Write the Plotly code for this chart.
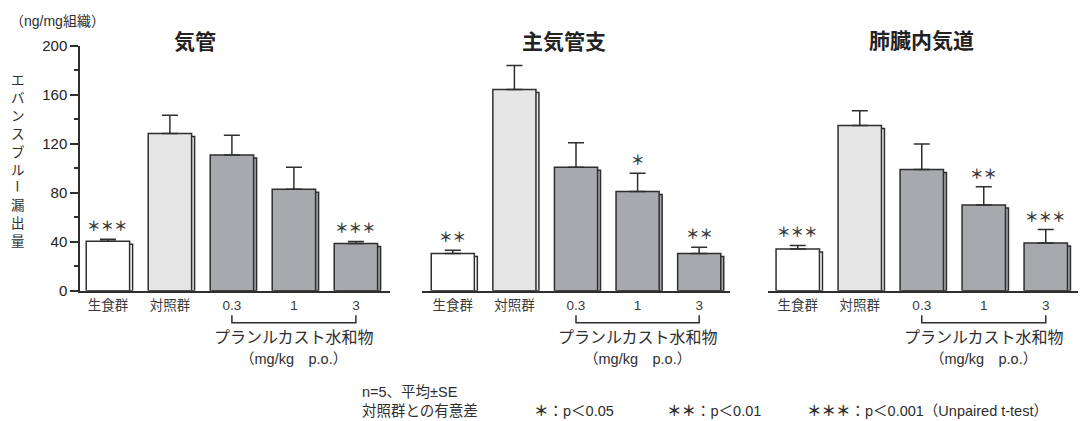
import plotly.graph_objects as go

W, H = 1082, 421

# ---- data -------------------------------------------------------------
categories = ["生食群", "対照群", "0.3", "1", "3"]
panel_titles = ["気管", "主気管支", "肺臓内気道"]

trachea_mean = [40.5, 128.5, 111, 83, 38.5]
trachea_se = [1.5, 15, 16, 18, 1.8]
trachea_sig = ["＊＊＊", "", "", "", "＊＊＊"]

bronchus_mean = [30.5, 164.5, 101, 81, 30.5]
bronchus_se = [2.5, 19.5, 20, 15, 5]
bronchus_sig = ["＊＊", "", "", "＊", "＊＊"]

intrapulm_mean = [34, 135, 99, 70, 39]
intrapulm_se = [3, 12, 21, 15, 11]
intrapulm_sig = ["＊＊＊", "", "", "＊＊", "＊＊＊"]

y_ticks = [0, 40, 80, 120, 160, 200]
y_minor = [20, 60, 100, 140, 180]
y_title = "エバンスブルー漏出量"
unit_label = "（ng/mg組織）"
drug_name = "プランルカスト水和物"
dose_unit = "（mg/kg　p.o.）"
drug_range = ("0.3", "3")

# ---- styling ------------------------------------------------------------
FONT = "Liberation Sans, Noto Sans CJK JP, sans-serif"
CJK = "Noto Sans CJK JP, sans-serif"
INK = "#2e2e2e"
bar_colors = ["#ffffff", "#e6e6e6", "#a7a9ac", "#a7a9ac", "#a7a9ac"]
BAR_W = 0.7

# pixel layout of the three panels: (left, right, range_lo, range_hi)
panel_px = [(80, 390, -0.45, 4.55), (422, 730, -0.5, 4.5), (768, 1078, -0.48, 4.52)]
title_px = [(195, 40), (564, 40), (921, 39)]
PLOT_TOP, PLOT_BOTTOM = 46, 290.7
px_per_x = 62.0
px_per_y = (PLOT_BOTTOM - PLOT_TOP) / 200.0
SHADOW_DX = 3.0 / px_per_x
SHADOW_DY = 3.0 / px_per_y


def fx(px):
    return px / W


def fy(px):
    return 1 - px / H


def label(x, y, text, size, family=FONT, color=INK, xref="paper", yref="paper",
          xanchor="center", **extra):
    return dict(x=x, y=y, xref=xref, yref=yref, text=text, showarrow=False,
                xanchor=xanchor, yanchor="middle",
                font=dict(family=family, size=size, color=color), **extra)


panels = [
    (trachea_mean, trachea_se, trachea_sig),
    (bronchus_mean, bronchus_se, bronchus_sig),
    (intrapulm_mean, intrapulm_se, intrapulm_sig),
]

fig = go.Figure()
annotations = []
positions = list(range(len(categories)))

for i, (mean, se, sig) in enumerate(panels):
    xa = "x" if i == 0 else f"x{i + 1}"
    # offset copy of each bar acting as a drop shadow
    fig.add_trace(go.Bar(
        x=positions, y=[m - SHADOW_DY for m in mean], xaxis=xa, yaxis="y",
        width=BAR_W, offset=-BAR_W / 2 + SHADOW_DX,
        marker=dict(color=bar_colors, line=dict(color=INK, width=1.5)),
        hoverinfo="skip", showlegend=False,
    ))
    fig.add_trace(go.Bar(
        x=positions, y=mean, xaxis=xa, yaxis="y",
        width=BAR_W, offset=-BAR_W / 2,
        marker=dict(color=bar_colors, line=dict(color=INK, width=1.5)),
        error_y=dict(type="data", array=se, arrayminus=[0] * len(se),
                     symmetric=False, color=INK, thickness=1.5, width=8),
        showlegend=False,
    ))
    # significance marks above the error bars
    for j, s in enumerate(sig):
        if s:
            annotations.append(label(j, mean[j] + se[j], f"<b>{s}</b>", 13.5,
                                     family=CJK, color="#3a3a3a", xref=xa, yref="y",
                                     yshift=14))
    # panel title
    tx, ty = title_px[i]
    annotations.append(label(fx(tx), fy(ty), f"<b>{panel_titles[i]}</b>", 21,
                             family=CJK, color="#222"))
    # bracket spanning the drug doses, drawn in a small helper subplot
    x0 = categories.index(drug_range[0])
    x1 = categories.index(drug_range[1])
    fig.add_trace(go.Scatter(
        x=[x0, x0, x1, x1], y=[1, 0, 0, 1], xaxis=xa, yaxis="y2",
        mode="lines", line=dict(color=INK, width=1.5),
        hoverinfo="skip", showlegend=False,
    ))
    annotations.append(label((x0 + x1) / 2, fy(336), drug_name, 16,
                             family=CJK, xref=xa))
    annotations.append(label((x0 + x1) / 2, fy(359), dose_unit, 14.5, xref=xa))

# vertical y-axis title, one character per line
for k, ch in enumerate(y_title):
    annotations.append(label(fx(18), fy(79 + 17.9 * k), ch, 13.5, family=CJK,
                             textangle=90 if ch == "ー" else 0))

annotations.append(label(fx(8), fy(21.5), unit_label, 14, xanchor="left"))

# footnotes
footnotes = [
    (360, 392, "n=5、平均±SE"),
    (360, 411, "対照群との有意差"),
    (532, 411, "<b>＊</b>：p＜0.05"),
    (665, 411, "<b>＊＊</b>：p＜0.01"),
    (805, 411, "<b>＊＊＊</b>：p＜0.001（Unpaired t-test）"),
]
for x, y, t in footnotes:
    annotations.append(label(fx(x), fy(y), t, 14.5, xanchor="left"))

xaxis_common = dict(
    anchor="y", showline=True, linecolor=INK, linewidth=1.5,
    tickvals=positions, ticktext=categories, ticks="", ticklabelstandoff=1,
    tickfont=dict(family=FONT, size=13.5, color="#3a3a3a"),
    showgrid=False, zeroline=False, fixedrange=True, automargin=False,
)
layout_axes = {}
for i, (l, r, lo, hi) in enumerate(panel_px):
    key = "xaxis" if i == 0 else f"xaxis{i + 1}"
    layout_axes[key] = dict(xaxis_common, domain=[fx(l), fx(r)], range=[lo, hi])

fig.update_layout(
    width=W, height=H,
    margin=dict(l=0, r=0, t=0, b=0, autoexpand=False),
    paper_bgcolor="white", plot_bgcolor="rgba(0,0,0,0)",
    barmode="overlay", showlegend=False,
    font=dict(family=FONT, color=INK),
    yaxis=dict(
        anchor="x", domain=[fy(PLOT_BOTTOM), fy(PLOT_TOP)], range=[0, 200],
        showline=True, linecolor=INK, linewidth=1.5,
        tickvals=y_ticks, ticks="outside", ticklen=8, tickwidth=1.5, tickcolor=INK,
        minor=dict(tickvals=y_minor, ticks="outside", ticklen=4, tickwidth=1.5, tickcolor=INK),
        tickfont=dict(family=FONT, size=15, color="#222"),
        showgrid=False, zeroline=False, fixedrange=True, automargin=False,
    ),
    # helper axis holding the dose brackets below the bars
    yaxis2=dict(
        anchor="x", domain=[fy(325), fy(313)], range=[-0.3, 1.3],
        visible=False, fixedrange=True, automargin=False,
    ),
    annotations=annotations,
    **layout_axes,
)

fig.write_html("out.html")
